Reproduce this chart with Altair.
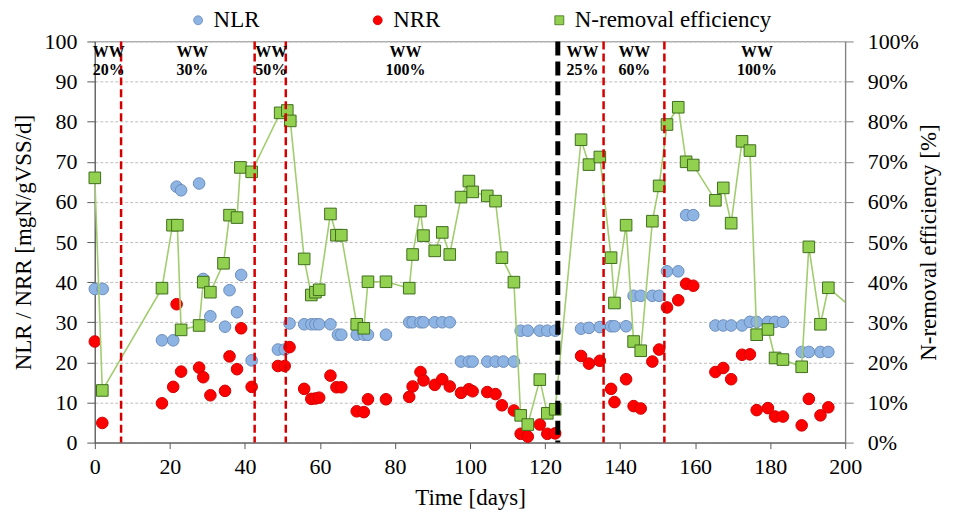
import altair as alt
import pandas as pd

SERIF = "Liberation Serif"

# ---------------- data ----------------
series_names = ["NLR", "NRR", "N-removal efficiency"]

eff_days = [0, 2, 17.9, 20.7, 22, 23, 27.8, 28.9, 30.8, 34.3, 35.9, 37.9, 38.8, 41.8,
            49.4, 51.3, 52.1, 55.8, 57.7, 58.8, 59.8, 62.8, 64.4, 65.7, 69.8, 71.7, 72.8,
            77.6, 83.8, 84.7, 86.8, 87.6, 90.6, 92.6, 94.6, 97.6, 99.7, 100.7, 104.6,
            106.8, 108.5, 111.7, 113.5, 115.4, 118.6, 120.6, 122.7, 129.6, 131.7, 134.6,
            137.6, 138.5, 141.6, 143.6, 145.5, 148.6, 150.4, 152.5, 155.5, 157.6, 159.5,
            165.4, 167.5, 169.6, 172.5, 174.6, 176.4, 179.4, 181.3, 183.4, 188.4, 190.3,
            193.4, 195.5, 204]
eff_vals = [66, 13, 38.5, 54.2, 54.2, 28.1, 29.2, 40, 37.5, 44.7, 56.7, 56.1, 68.6, 67.5,
            82.2, 82.8, 80.2, 45.8, 36.8, 37.5, 38.1, 57, 51.7, 51.7, 29.5, 28.5, 40.1,
            40.1, 38.5, 46.9, 57.7, 51.6, 47.8, 52.4, 46.9, 61.2, 65.2, 62.5, 61.5,
            60.2, 46.1, 40, 6.8, 4.5, 15.7, 7.3, 8.3, 75.5, 69.3, 71.2,
            46.1, 34.8, 54.2, 25.2, 22.9, 55.2, 64, 79.3, 83.6, 70, 69.2,
            60.4, 63.5, 54.7, 75.1, 72.8, 26.9, 28.2, 21.1, 20.7, 18.9, 48.8,
            29.5, 38.6, 31.8]

nlr_days = [0, 2.1, 17.9, 20.9, 21.8, 23, 27.8, 28.9, 30.8, 34.7, 35.9, 37.9, 39, 41.8,
            48.8, 50.6, 51.9, 55.8, 57.7, 58.8, 59.8, 62.8, 64.8, 65.7, 69.8, 71.7, 72.8,
            77.6, 83.8, 84.7, 86.8, 87.6, 90.6, 92.6, 94.6, 97.6, 99.7, 100.7, 104.6,
            106.8, 108.9, 111.7, 113.5, 115.4, 118.6, 120.6, 122.7, 129.6, 131.7, 134.6,
            137.6, 138.5, 141.6, 143.6, 145.5, 148.6, 150.4, 152.5, 155.5, 157.6, 159.5,
            165.4, 167.5, 169.6, 172.5, 174.6, 176.4, 179.4, 181.3, 183.4, 188.4, 190.3,
            193.4, 195.5]
nlr_vals = [38.3, 38.3, 25.5, 25.5, 63.8, 62.9, 64.6, 40.8, 31.5, 28.9, 38, 32.5, 41.8, 20.5,
            23.2, 23.2, 29.7, 29.5, 29.5, 29.5, 29.5, 29.5, 26.9, 26.9, 26.9, 26.9, 26.9,
            26.9, 30, 30, 30, 30, 30, 30, 30, 20.2, 20.2, 20.2, 20.2,
            20.2, 20.2, 20.2, 27.9, 27.9, 27.9, 27.9, 27.9, 28.4, 28.6, 28.8,
            29, 29, 29, 36.6, 36.6, 36.6, 36.6, 42.7, 42.7, 56.7, 56.7,
            29.2, 29.2, 29.2, 29.2, 30.1, 30.1, 30.1, 30.1, 30.1, 22.6, 22.6,
            22.6, 22.6]

nrr_days = [0, 2, 17.9, 20.9, 21.8, 23, 27.8, 28.9, 30.8, 34.7, 35.9, 37.9, 39, 41.8,
            48.8, 50.6, 51.9, 55.8, 57.7, 58.8, 59.8, 62.8, 64.4, 65.7, 69.8, 71.7, 72.8,
            77.6, 83.8, 84.7, 86.8, 87.6, 90.6, 92.6, 94.6, 97.6, 99.7, 100.7, 104.6,
            106.8, 108.5, 111.7, 113.5, 115.4, 118.6, 120.6, 122.7, 129.6, 131.7, 134.6,
            137.6, 138.5, 141.6, 143.6, 145.5, 148.6, 150.4, 152.5, 155.5, 157.6, 159.5,
            165.4, 167.5, 169.6, 172.5, 174.6, 176.4, 179.4, 181.3, 183.4, 188.4, 190.3,
            193.4, 195.5]
nrr_vals = [25.2, 4.9, 9.8, 13.9, 34.5, 17.7, 18.7, 16.3, 11.8, 12.9, 21.5, 18.3, 28.5, 13.9,
            19.1, 19.1, 23.8, 13.4, 10.9, 11, 11.2, 16.7, 13.8, 13.8, 7.8, 7.6, 10.8,
            10.8, 11.4, 14, 17.6, 15.5, 14.4, 15.8, 14, 12.4, 13.3, 12.8, 12.6,
            12.1, 9.3, 8, 2.2, 1.5, 4.5, 2.2, 2.3, 21.6, 19.7, 20.4,
            13.4, 10.1, 15.8, 9.1, 8.5, 20.2, 23.2, 33.7, 35.5, 39.6, 39.1,
            17.6, 18.6, 15.8, 21.9, 22, 8.1, 8.6, 6.5, 6.5, 4.3, 10.9,
            6.8, 8.8]

phase_red_days = [7.0, 42.6, 50.9, 135.6, 151.8]
phase_black_days = [123.4]

label_days = [3.7, 26, 47, 82.8, 130, 143.8, 176.5]
label_texts = ["WW\n20%", "WW\n30%", "WW\n50%", "WW\n100%", "WW\n25%", "WW\n60%", "WW\n100%"]
label_y = 99.3

x_ticks = list(range(0, 201, 20))
y_ticks = list(range(0, 101, 10))

# ---------------- tables ----------------
df_load = pd.concat([
    pd.DataFrame({"day": nlr_days, "val": nlr_vals, "series": "NLR"}),
    pd.DataFrame({"day": nrr_days, "val": nrr_vals, "series": "NRR"}),
], ignore_index=True)
df_eff = pd.DataFrame({"day": eff_days, "val": eff_vals, "series": "N-removal efficiency"})
df_eff_pts = df_eff[df_eff["day"] <= 200]
df_red = pd.DataFrame({"day": phase_red_days})
df_black = pd.DataFrame({"day": phase_black_days})
df_lab = pd.DataFrame({"day": label_days, "txt": label_texts, "y": [label_y] * len(label_days)})

# ---------------- scales ----------------
xs = alt.Scale(domain=[0, 200], nice=False, zero=False)
ys = alt.Scale(domain=[0, 100], nice=False)
color_scale = alt.Scale(domain=series_names, range=["#8EB4E3", "#FF0000", "#92D050"])
shape_scale = alt.Scale(domain=series_names, range=["circle", "circle", "square"])
stroke_scale = alt.Scale(domain=series_names, range=["#6A8DBB", "#D00000", "#3F6E1E"])

legend = alt.Legend(title=None, orient="none", legendX=92, legendY=-33, direction="horizontal",
                    labelFont=SERIF, labelFontSize=23, labelColor="#000000", symbolSize=80,
                    columnPadding=107, labelOffset=4, symbolStrokeWidth=0.8,
                    symbolStrokeColor="#7a8ea8", labelLimit=0)

x_axis = alt.Axis(values=x_ticks, grid=False, title="Time [days]", titleFont=SERIF,
                  titleFontSize=23, titleFontWeight="normal", titleColor="#000000",
                  titlePadding=9, labelFont=SERIF, labelFontSize=22, labelColor="#000000",
                  labelPadding=8, tickSize=6, tickColor="#595959", domainColor="#595959",
                  labelFlush=False)

left_axis = alt.Axis(values=y_ticks, title="NLR / NRR [mgN/gVSS/d]", titleFont=SERIF,
                     titleFontSize=23, titleFontWeight="normal", titleColor="#000000",
                     titlePadding=8, labelFont=SERIF, labelFontSize=22, labelColor="#000000",
                     labelPadding=10, tickSize=8, tickColor="#595959", domainColor="#595959",
                     grid=True, gridColor="#BDBDBD", gridDash=[3, 2], gridWidth=1)

right_axis = alt.Axis(orient="right", values=y_ticks, labelExpr="datum.value + '%'",
                      title="N-removal efficiency [%]", titleFont=SERIF, titleFontSize=23,
                      titleFontWeight="normal", titleColor="#000000", titleAngle=270,
                      titlePadding=22, labelFont=SERIF, labelFontSize=22,
                      labelColor="#000000", labelPadding=14, tickSize=8,
                      tickColor="#7F7F7F", domainColor="#7F7F7F", grid=False)

# ---------------- layers ----------------
load_pts = alt.Chart(df_load).mark_point(filled=True, size=135, opacity=1, strokeWidth=1).encode(
    x=alt.X("day:Q", scale=xs, axis=x_axis),
    y=alt.Y("val:Q", scale=ys, axis=left_axis),
    color=alt.Color("series:N", scale=color_scale, legend=legend),
    shape=alt.Shape("series:N", scale=shape_scale, legend=legend),
    stroke=alt.Stroke("series:N", scale=stroke_scale, legend=None),
)

eff_line = alt.Chart(df_eff).mark_line(color="#A2CD6F", strokeWidth=1.6, clip=True).encode(
    x=alt.X("day:Q", scale=xs),
    y=alt.Y("val:Q", scale=ys, axis=right_axis),
    order="day:Q",
)
eff_pts = alt.Chart(df_eff_pts).mark_point(filled=True, size=135, opacity=1, strokeWidth=1).encode(
    x=alt.X("day:Q", scale=xs),
    y=alt.Y("val:Q", scale=ys, axis=right_axis),
    color=alt.Color("series:N", scale=color_scale, legend=legend),
    shape=alt.Shape("series:N", scale=shape_scale, legend=legend),
    stroke=alt.Stroke("series:N", scale=stroke_scale, legend=None),
)
eff_layer = alt.layer(eff_line, eff_pts)

red_rules = alt.Chart(df_red).mark_rule(color="#D40000", strokeWidth=2.5, strokeDash=[8, 4]).encode(
    x=alt.X("day:Q", scale=xs)
)
black_rule = alt.Chart(df_black).mark_rule(color="#000000", strokeWidth=5, strokeDash=[14, 6]).encode(
    x=alt.X("day:Q", scale=xs)
)

labels = alt.Chart(df_lab).mark_text(font=SERIF, fontWeight="bold", fontSize=16, lineBreak="\n",
                                     baseline="top", align="center", lineHeight=18,
                                     color="#000000").encode(
    x=alt.X("day:Q", scale=xs),
    y=alt.Y("y:Q", scale=ys, axis=None),
    text="txt:N",
)

chart = alt.layer(load_pts, eff_layer, red_rules, black_rule, labels).resolve_scale(
    y="independent"
).properties(
    width=752, height=402,
    autosize=alt.AutoSizeParams(type="none"),
    padding={"left": 87, "top": 33, "right": 102, "bottom": 68},
).configure(
    font=SERIF, background="white"
).configure_axis(
    labelFont=SERIF, titleFont=SERIF
).configure_legend(
    labelFont=SERIF, labelLimit=0
).configure_text(
    font=SERIF
).configure_view(
    stroke="#8C8C8C", strokeWidth=1.2
)

chart.save("out.html", embed_options={"renderer": "svg", "actions": False})
